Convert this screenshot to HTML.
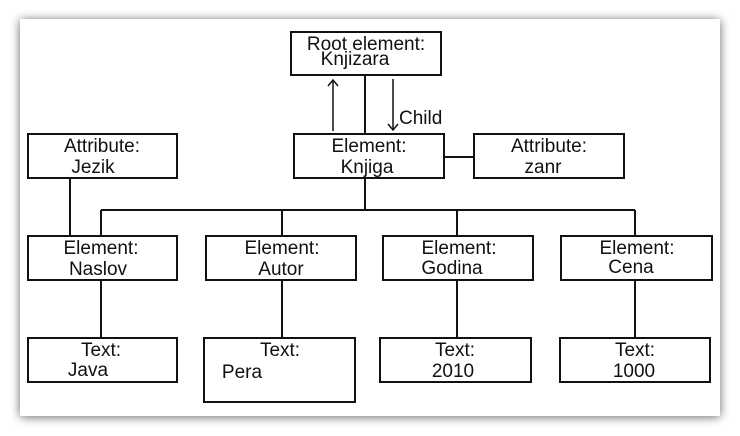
<!DOCTYPE html>
<html><head><style>
html,body{margin:0;padding:0;background:#fff;width:740px;height:436px;overflow:hidden}
svg{display:block}
text{font-family:"Liberation Sans",sans-serif;font-size:19px;fill:#111}
</style></head><body>
<svg width="740" height="436" viewBox="0 0 740 436" xmlns="http://www.w3.org/2000/svg">
<defs>
<filter id="sh" x="-5%" y="-5%" width="110%" height="115%">
<feGaussianBlur in="SourceAlpha" stdDeviation="5"/>
<feOffset dx="0" dy="1"/>
<feComponentTransfer><feFuncA type="linear" slope="0.6"/></feComponentTransfer>
<feMerge><feMergeNode/><feMergeNode in="SourceGraphic"/></feMerge>
</filter>
</defs>
<rect x="20" y="19" width="700" height="397" fill="#fff" filter="url(#sh)"/>
<g fill="none" stroke="#111" stroke-width="2">
<rect x="291" y="32" width="150" height="43"/>
<rect x="294" y="134" width="150" height="44"/>
<rect x="28" y="134" width="149" height="44"/>
<rect x="474" y="134" width="150" height="44"/>
<rect x="28" y="236" width="149" height="44"/>
<rect x="206" y="236" width="150" height="44"/>
<rect x="383" y="236" width="150" height="44"/>
<rect x="561" y="236" width="151" height="44"/>
<rect x="28" y="338" width="149" height="44"/>
<rect x="204" y="338" width="151" height="64"/>
<rect x="380" y="338" width="151" height="44"/>
<rect x="560" y="338" width="150" height="44"/>
<line x1="365" y1="75" x2="365" y2="134"/>
<line x1="444" y1="157" x2="474" y2="157"/>
<line x1="365" y1="178" x2="365" y2="210"/>
<line x1="101" y1="210" x2="635" y2="210"/>
<line x1="70" y1="178" x2="70" y2="236"/>
<line x1="101" y1="210" x2="101" y2="236"/>
<line x1="282" y1="210" x2="282" y2="236"/>
<line x1="457" y1="210" x2="457" y2="236"/>
<line x1="635" y1="210" x2="635" y2="236"/>
<line x1="101" y1="280" x2="101" y2="338"/>
<line x1="282" y1="280" x2="282" y2="338"/>
<line x1="457" y1="280" x2="457" y2="338"/>
<line x1="635" y1="280" x2="635" y2="338"/>
</g>
<g fill="none" stroke="#111" stroke-width="1.5">
<line x1="333" y1="80" x2="333" y2="131"/>
<polyline points="328,86 333,80 338,86"/>
<line x1="393" y1="79" x2="393" y2="130"/>
<polyline points="388,124 393,130 398,124"/>
</g>
<text x="399" y="124">Child</text>
<g text-anchor="middle">
<text x="366" y="50">Root element:</text>
<text x="355" y="65">Knjizara</text>
<text x="369" y="152">Element:</text>
<text x="367" y="173">Knjiga</text>
<text x="102" y="152">Attribute:</text>
<text x="93" y="173">Jezik</text>
<text x="549" y="152">Attribute:</text>
<text x="543" y="173">zanr</text>
<text x="101" y="254">Element:</text>
<text x="98" y="275">Naslov</text>
<text x="282" y="254">Element:</text>
<text x="281" y="275">Autor</text>
<text x="459" y="254">Element:</text>
<text x="452" y="274">Godina</text>
<text x="637" y="254">Element:</text>
<text x="631" y="273">Cena</text>
<text x="101" y="356">Text:</text>
<text x="88" y="376">Java</text>
<text x="280" y="356">Text:</text>
<text x="242" y="378">Pera</text>
<text x="455" y="356">Text:</text>
<text x="453" y="377">2010</text>
<text x="635" y="356">Text:</text>
<text x="634" y="377">1000</text>
</g>
</svg>
</body></html>
